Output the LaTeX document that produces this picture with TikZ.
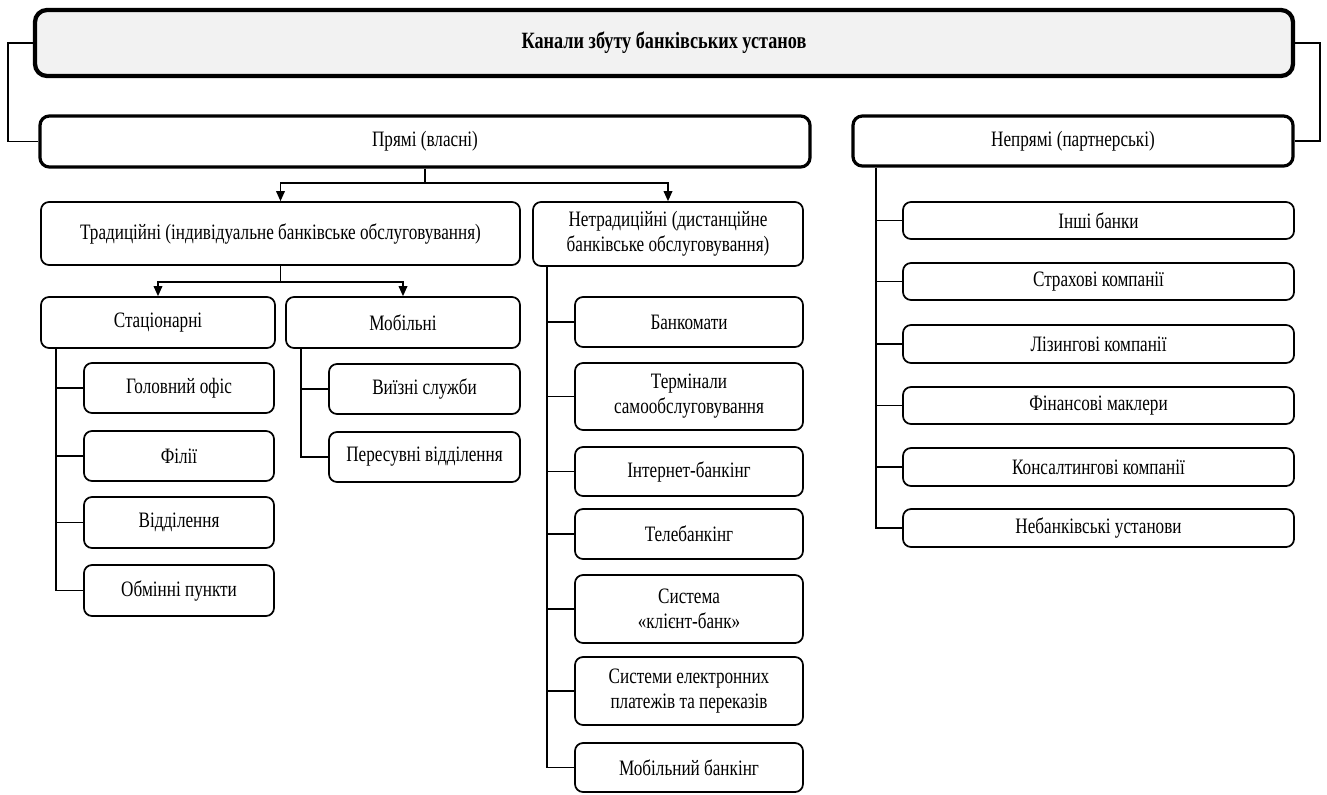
\documentclass[tikz,border=0pt]{standalone}
\usepackage{fontspec}
\setmainfont{Liberation Serif}[FakeStretch=0.78]
\usetikzlibrary{arrows.meta}
\newcommand\bx[7]{\node[#1, minimum width={(#5-#3)*0.75pt}, minimum height={(#6-#4)*0.75pt}] (#2) at ({(#3+#5)/2},{(#4+#6)/2}) {#7};}
\begin{document}
\begin{tikzpicture}[x=0.75pt,y=-0.75pt,
  txt/.style={font=\fontsize{16.5}{18.75}\selectfont},
  box/.style={draw, rounded corners=6pt, line width=1.3pt, inner sep=0pt, align=center, txt},
  midbox/.style={box, line width=2.4pt, rounded corners=7pt},
  topbox/.style={box, line width=3.2pt, rounded corners=9pt, fill=black!5, font=\fontsize{17.5}{19}\selectfont\bfseries},
  conn/.style={line width=1pt},
  arr/.style={conn, -{Triangle[length=7.5pt,width=6.5pt]}}]
\useasboundingbox (0,0) rectangle (1327,794);

% main boxes
\bx{topbox}{top}{35}{10}{1293}{76}{Канали збуту банківських установ}
\bx{midbox}{pr}{40}{116}{810}{167}{Прямі (власні)}
\bx{midbox}{np}{853}{116}{1293}{166}{Непрямі (партнерські)}

\bx{box}{trad}{41}{202}{520}{265}{Традиційні (індивідуальне банківське обслуговування)}
\bx{box}{netr}{533}{202}{803}{266}{Нетрадиційні (дистанційне\\банківське обслуговування)}
\bx{box}{stat}{41}{297}{275}{348}{Стаціонарні}
\bx{box}{mob}{286}{297}{520}{348}{Мобільні}

\bx{box}{s1}{84}{363}{274}{413}{Головний офіс}
\bx{box}{s2}{84}{431}{274}{481}{Філії}
\bx{box}{s3}{84}{497}{274}{548}{Відділення}
\bx{box}{s4}{84}{565}{274}{616}{Обмінні пункти}

\bx{box}{m1}{329}{364}{520}{414}{Виїзні служби}
\bx{box}{m2}{329}{432}{520}{482}{Пересувні відділення}

\bx{box}{n1}{575}{297}{803}{347}{Банкомати}
\bx{box}{n2}{575}{363}{803}{430}{Термінали\\самообслуговування}
\bx{box}{n3}{575}{447}{803}{496}{Інтернет-банкінг}
\bx{box}{n4}{575}{509}{803}{559}{Телебанкінг}
\bx{box}{n5}{575}{575}{803}{643}{Система\\«клієнт-банк»}
\bx{box}{n6}{575}{657}{803}{725}{Системи електронних\\платежів та переказів}
\bx{box}{n7}{575}{743}{803}{792}{Мобільний банкінг}

\bx{box}{p1}{903}{202}{1294}{239}{Інші банки}
\bx{box}{p2}{903}{263}{1294}{300}{Страхові компанії}
\bx{box}{p3}{903}{325}{1294}{363}{Лізингові компанії}
\bx{box}{p4}{903}{387}{1294}{424}{Фінансові маклери}
\bx{box}{p5}{903}{448}{1294}{486}{Консалтингові компанії}
\bx{box}{p6}{903}{509}{1294}{547}{Небанківські установи}

% brackets from the top box
\coordinate (lb) at (8,0);
\coordinate (rb) at (1320,0);
\draw[conn] (top.west) -- (lb |- top.west) |- (pr.west);
\draw[conn] (top.east) -- (rb |- top.east) |- (np.east);

% direct -> traditional / non-traditional
\coordinate (j1) at (425,183);
\draw[conn] (pr.south) -- (j1);
\draw[arr] (j1) -| (trad.north);
\draw[arr] (j1) -| (netr.north);

% traditional -> stationary / mobile
\coordinate (j2) at (280.5,282);
\draw[conn] (trad.south) -- (j2);
\draw[arr] (j2) -| (stat.north);
\draw[arr] (j2) -| (mob.north);

% spines
\coordinate (sx) at (56,0);
\coordinate (mx) at (301,0);
\coordinate (nx) at (547,0);
\coordinate (px) at (876,0);

\draw[conn] (sx |- stat.south) |- (s4.west);
\foreach \c in {s1,s2,s3} \draw[conn] (sx |- \c.west) -- (\c.west);

\draw[conn] (mx |- mob.south) |- (m2.west);
\draw[conn] (mx |- m1.west) -- (m1.west);

\draw[conn] (nx |- netr.south) |- (n7.west);
\foreach \c in {n1,n2,n3,n4,n5,n6} \draw[conn] (nx |- \c.west) -- (\c.west);

\draw[conn] (px |- np.south) |- (p6.west);
\foreach \c in {p1,p2,p3,p4,p5} \draw[conn] (px |- \c.west) -- (\c.west);
\end{tikzpicture}
\end{document}
